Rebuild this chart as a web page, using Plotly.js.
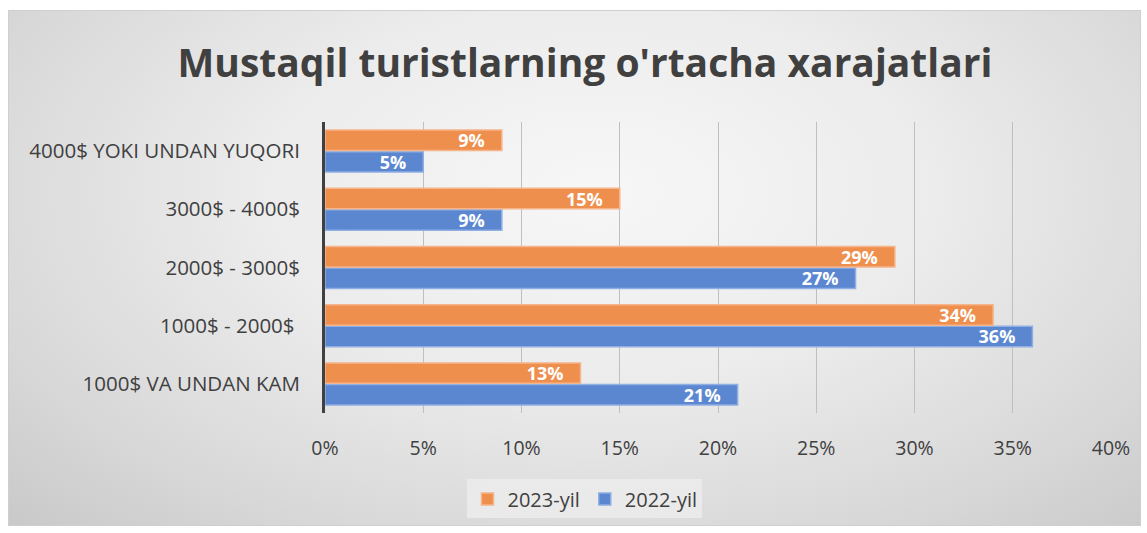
<!DOCTYPE html>
<html>
<head>
<meta charset="utf-8">
<script src="https://cdn.plot.ly/plotly-3.0.1.min.js"></script>
<style>
  html, body { margin: 0; padding: 0; background: #ffffff; }
  #bg {
    position: absolute; left: 8px; top: 10px; width: 1131px; height: 514px;
    border: 1px solid #cfcfcf;
    background: radial-gradient(ellipse at 52% 35%, #f7f7f7 0%, #ececec 40%, #d9d9d9 75%, #c9c9c9 100%);
  }
  #chart { position: absolute; left: 0; top: 0; width: 1147px; height: 533px; }
</style>
</head>
<body>
<div id="bg"></div>
<div id="chart"></div>
<script>
const categories = ["1000$ VA UNDAN KAM", "1000$ - 2000$\u00a0", "2000$ - 3000$", "3000$ - 4000$", "4000$ YOKI UNDAN YUQORI"];
const values2023 = [13, 34, 29, 15, 9];
const values2022 = [21, 36, 27, 9, 5];
const seriesNames = ["2023-yil", "2022-yil"];
const xTicks = [0, 5, 10, 15, 20, 25, 30, 35, 40];

const font = "Open Sans, Noto Sans, sans-serif";
const labelFont = {family: font, size: 18, color: "#ffffff", weight: "bold"};

const trace2022 = {
  type: "bar", orientation: "h", name: seriesNames[1],
  y: categories, x: values2022,
  marker: {color: "#5B87D0", line: {color: "#8FAEE3", width: 1.5}},
  text: values2022.map(v => v + "%\u00a0\u00a0\u00a0"),
  textposition: "inside", insidetextanchor: "end", constraintext: "none",
  textfont: labelFont, hoverinfo: "skip", cliponaxis: false
};
const trace2023 = {
  type: "bar", orientation: "h", name: seriesNames[0],
  y: categories, x: values2023,
  marker: {color: "#EE8F4E", line: {color: "#F6B48A", width: 1.5}},
  text: values2023.map(v => v + "%\u00a0\u00a0\u00a0"),
  textposition: "inside", insidetextanchor: "end", constraintext: "none",
  textfont: labelFont, hoverinfo: "skip", cliponaxis: false
};

const layout = {
  width: 1147, height: 533,
  paper_bgcolor: "rgba(0,0,0,0)", plot_bgcolor: "rgba(0,0,0,0)",
  margin: {l: 325, r: 36, t: 122, b: 120},
  barmode: "group", bargap: 0.26, bargroupgap: 0.05,
  font: {family: font, color: "#404040"},
  title: {
    text: "Mustaqil turistlarning o'rtacha xarajatlari",
    font: {family: font, size: 39, color: "#404040", weight: "bold"},
    x: 0.51, xref: "container", xanchor: "center",
    y: 0.882, yref: "container", yanchor: "middle"
  },
  xaxis: {
    range: [0, 40], tickvals: xTicks, ticktext: xTicks.map(v => v + "%"),
    showgrid: true, gridcolor: "#bfbfbf", gridwidth: 1,
    zeroline: false, showline: false,
    tickfont: {family: font, size: 19.5, color: "#404040"},
    ticklabelstandoff: 21, fixedrange: true
  },
  yaxis: {
    type: "category", categoryorder: "array", categoryarray: categories,
    showline: true, linecolor: "#404040", linewidth: 3,
    showgrid: false, zeroline: false,
    tickfont: {family: font, size: 20.5, color: "#404040"},
    ticklabelstandoff: 18, fixedrange: true
  },
  showlegend: true,
  legend: {
    orientation: "h", traceorder: "reversed",
    x: 0.51, xref: "container", xanchor: "center",
    y: 0.064, yref: "container", yanchor: "middle",
    bgcolor: "rgba(236,236,236,0.85)",
    font: {family: font, size: 20, color: "#404040"},
    itemwidth: 30
  }
};

Plotly.newPlot("chart", [trace2022, trace2023], layout, {displayModeBar: false, staticPlot: true});
</script>
</body>
</html>
